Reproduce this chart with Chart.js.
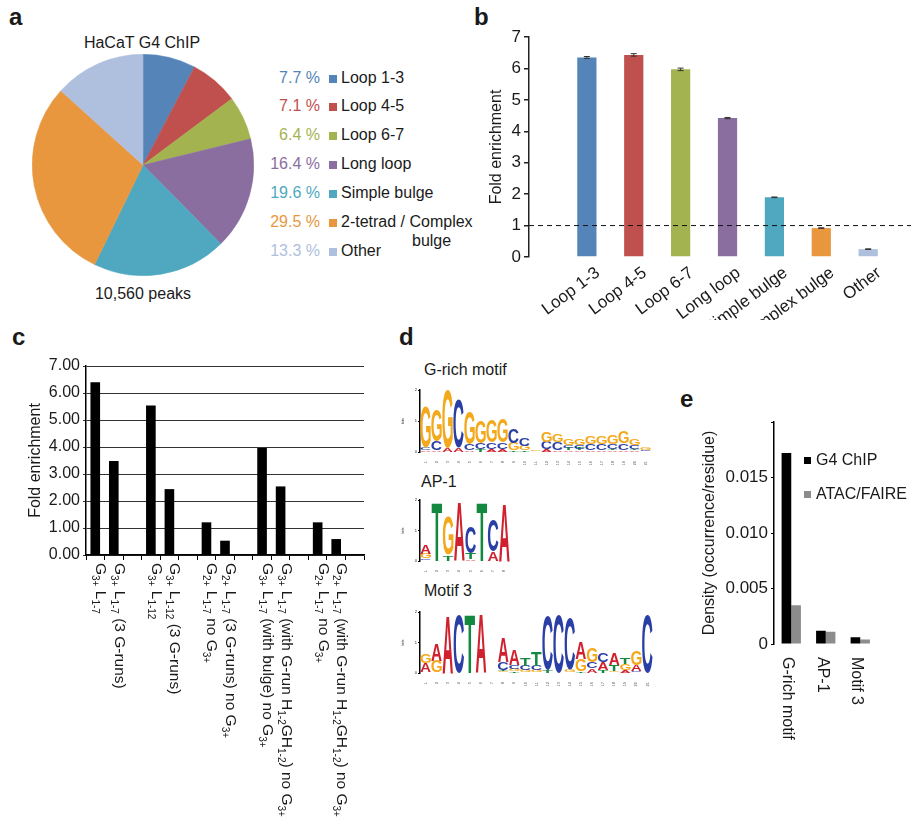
<!DOCTYPE html>
<html><head><meta charset="utf-8">
<script src="https://cdn.jsdelivr.net/npm/chart.js@4/dist/chart.umd.min.js"></script>
<style>
body{margin:0;background:#fff;width:922px;height:826px;position:relative;overflow:hidden;font-family:"Liberation Sans",Arial,sans-serif;color:#1a1a1a;}
canvas{position:absolute;}
.t{position:absolute;white-space:nowrap;font-size:16px;line-height:1;}
.lab{position:absolute;font-weight:bold;font-size:24px;line-height:1;}
.sq{position:absolute;width:8px;height:8px;}
</style></head><body>
<script>
// ---------- DATA ----------
const pieLabels = ["Loop 1-3","Loop 4-5","Loop 6-7","Long loop","Simple bulge","2-tetrad / Complex bulge","Other"];
const piePercents = [7.7, 7.1, 6.4, 16.4, 19.6, 29.5, 13.3];
const pieColors = ["#5585b8","#c0504d","#a3b350","#8b6ea0","#4fa8c0","#e8973f","#afbfde"];
const pieTitle = "HaCaT G4 ChIP";
const pieFooter = "10,560 peaks";

const bCategories = ["Loop 1-3","Loop 4-5","Loop 6-7","Long loop","Simple bulge","2-tetrad / Complex bulge","Other"];
const bValues = [6.35, 6.43, 5.97, 4.42, 1.90, 0.92, 0.25];
const bErrors = [0.03, 0.04, 0.04, 0.02, 0.01, 0.01, 0.01];
const bReference = 1;
const bYTicks = [0,1,2,3,4,5,6,7];

const cLabels = [
  "G_{3+} L_{1-7}",
  "G_{3+} L_{1-7} (3 G-runs)",
  "G_{3+} L_{1-12}",
  "G_{3+} L_{1-12} (3 G-runs)",
  "G_{2+} L_{1-7} no G_{3+}",
  "G_{2+} L_{1-7} (3 G-runs) no G_{3+}",
  "G_{3+} L_{1-7} (with bulge) no G_{3+}",
  "G_{3+} L_{1-7} (with G-run H_{1-2}GH_{1-2}) no G_{3+}",
  "G_{2+} L_{1-7} no G_{3+}",
  "G_{2+} L_{1-7} (with G-run H_{1-2}GH_{1-2}) no G_{3+}"
];
const cValues = [6.40, 3.48, 5.54, 2.44, 1.21, 0.53, 3.96, 2.54, 1.21, 0.59];

const eCategories = ["G-rich motif","AP-1","Motif 3"];
const eSeriesNames = ["G4 ChIP","ATAC/FAIRE"];
const eG4 = [0.0172, 0.0012, 0.0006];
const eAtac = [0.0035, 0.0011, 0.0004];

const logoTitles = ["G-rich motif","AP-1","Motif 3"];
// letters per position, stacked bottom -> top; heights in bits
const gRichLetters = ["ACG","ACG","AG","AC","ACG","TCG","ACG","ACG","TGC","TGC","TG","ACG","ACG","ATCG","ATCG","ACG","ACG","ATCG","ACG","ATCG","TCG"];
const gRichHeights = [[.06,.07,1.3],[.05,.3,1.0],[.12,1.87],[.15,1.55],[.05,.2,1.05],[.08,.2,.7],[.1,.2,.7],[.1,.2,.75],[.05,.25,.45],[.05,.15,.27],[.03,.04],[.08,.25,.35],[.06,.25,.25],[.05,.08,.1,.2],[.05,.06,.12,.22],[.05,.2,.25],[.05,.2,.25],[.05,.05,.15,.3],[.05,.22,.38],[.05,.05,.12,.2],[.03,.03,.1]];
const ap1Letters = ["TCGA","T","TG","A","ATC","T","AC","A"];
const ap1Heights = [[.03,.05,.15,.3],[1.95],[.2,1.25],[1.95],[.05,.2,.85],[1.95],[.3,1.05],[1.9]];
const motif3Letters = ["TAG","GA","A","C","T","A","C","GTCA","TGCA","GCT","GCT","TC","C","GC","TGA","ACG","TAC","GTA","AGT","CAG","C"];
const motif3Heights = [[.03,.3,.3],[.4,.55],[1.9],[1.9],[1.95],[1.95],[.02],[.05,.05,.25,.8],[.05,.08,.12,.5],[.08,.15,.25],[.08,.15,.45],[.1,1.75],[1.9],[.1,1.7],[.05,.4,.55],[.15,.2,.45],[.1,.25,.3],[.05,.2,.4],[.1,.2,.2],[.05,.2,.45],[1.9]];
const letterColors = {A:"#d0222e", C:"#2a3fa6", G:"#f4a91d", T:"#13883f"};

// ---------- HELPERS ----------
const FONT = '"Liberation Sans", Arial, Helvetica, sans-serif';
Chart.defaults.font.family = FONT;
Chart.defaults.color = '#1a1a1a';
Chart.defaults.animation = false;
Chart.defaults.plugins.legend.display = false;
Chart.defaults.plugins.tooltip.enabled = false;

function makeCanvas(left, top, w, h){
  const c = document.createElement('canvas');
  c.width = w; c.height = h;
  c.style.left = left+'px'; c.style.top = top+'px';
  c.style.width = w+'px'; c.style.height = h+'px';
  document.body.appendChild(c);
  return c;
}
function addText(txt, x, y, align, cls, color){
  const d = document.createElement('div');
  d.className = cls || 't';
  d.textContent = txt;
  d.style.left = x+'px'; d.style.top = y+'px';
  const tx = align==='center' ? '-50%' : align==='right' ? '-100%' : '0';
  d.style.transform = 'translate('+tx+',-50%)';
  if (color) d.style.color = color;
  document.body.appendChild(d);
  return d;
}
function addSquare(x, y, color, size){
  const d = document.createElement('div');
  d.className = 'sq'; d.style.left = x+'px'; d.style.top = y+'px'; d.style.background = color;
  if (size){ d.style.width = size+'px'; d.style.height = size+'px'; }
  document.body.appendChild(d);
}
function drawRich(ctx, text, x, y, size, subSize){
  const parts = []; const re = /_\{([^}]*)\}/g; let last = 0, m;
  while ((m = re.exec(text))){ if (m.index>last) parts.push({t:text.slice(last,m.index),sub:false}); parts.push({t:m[1],sub:true}); last = re.lastIndex; }
  if (last < text.length) parts.push({t:text.slice(last),sub:false});
  ctx.save(); ctx.translate(x,y); ctx.rotate(Math.PI/2);
  ctx.fillStyle = '#1a1a1a'; ctx.textBaseline = 'alphabetic'; ctx.textAlign = 'left';
  let cx = 0;
  for (const p of parts){
    ctx.font = (p.sub?subSize:size)+'px '+FONT;
    ctx.fillText(p.t, cx, p.sub ? subSize*0.4 : 0);
    cx += ctx.measureText(p.t).width;
  }
  ctx.restore();
}

// ---------- PANEL LABELS ----------
[["a",9,17],["b",474,17],["c",12,337],["d",399,337],["e",680,399]].forEach(([t,x,y])=>addText(t,x,y,'left','lab'));

// ---------- PANEL A : PIE ----------
new Chart(makeCanvas(32,54,222,222), {
  type:'pie',
  data:{labels:pieLabels, datasets:[{data:piePercents, backgroundColor:pieColors, borderColor:pieColors, borderWidth:0.5}]},
  options:{responsive:false, layout:{padding:0}}
});
addText(pieTitle, 142, 43, 'center');
addText(pieFooter, 143, 294, 'center');
pieLabels.forEach((lab,i)=>{
  const y = 77.5 + i*28.9;
  addText(piePercents[i].toFixed(1)+' %', 320, y, 'right', 't', pieColors[i]);
  addSquare(329, y-3, pieColors[i]);
  const words = lab.split(' ');
  if (lab.length > 18){
    addText(words.slice(0,-1).join(' '), 341, y, 'left');
    addText(words[words.length-1], 412, y+19, 'left');
  } else addText(lab, 341, y, 'left');
});

// ---------- PANEL B ----------
const errPlugin = {id:'errbars', afterDatasetsDraw(chart){
  const ctx = chart.ctx, ys = chart.scales.y, meta = chart.getDatasetMeta(0);
  ctx.save(); ctx.strokeStyle = '#333'; ctx.lineWidth = 1;
  meta.data.forEach((el,i)=>{
    const x = el.x, t = ys.getPixelForValue(bValues[i]+bErrors[i]), b = ys.getPixelForValue(bValues[i]-bErrors[i]);
    ctx.beginPath(); ctx.moveTo(x,t); ctx.lineTo(x,b);
    ctx.moveTo(x-3,t); ctx.lineTo(x+3,t); ctx.moveTo(x-3,b); ctx.lineTo(x+3,b); ctx.stroke();
  });
  const yr = ys.getPixelForValue(bReference);
  ctx.strokeStyle = '#111'; ctx.setLineDash([5,4]);
  ctx.beginPath(); ctx.moveTo(chart.chartArea.left, yr); ctx.lineTo(chart.chartArea.right-8, yr); ctx.stroke();
  ctx.restore();
}};
new Chart(makeCanvas(470,20,452,300), {
  type:'bar',
  data:{datasets:[{data:bValues.map((v,i)=>({x:i,y:v})), backgroundColor:pieColors, borderWidth:0, barPercentage:0.41, categoryPercentage:1}]},
  options:{responsive:false, layout:{padding:{top:17,left:13,right:3,bottom:0}},
    scales:{
      x:{type:'linear', min:-0.64, max:6.49,
         afterBuildTicks:s=>{s.ticks = bCategories.map((_,i)=>({value:i}));},
         afterFit:s=>{s.height = 63;},
         grid:{display:false}, border:{display:false},
         ticks:{autoSkip:false, maxRotation:37, minRotation:37, font:{size:17}, padding:-2, labelOffset:11, callback:v=>bCategories[v] ?? ''}},
      y:{min:0, max:7, afterFit:s=>{s.width = 46;},
         afterBuildTicks:s=>{s.ticks = bYTicks.map(v=>({value:v}));},
         ticks:{font:{size:17}, padding:3},
         grid:{drawOnChartArea:false, tickLength:5, color:'#222', lineWidth:1.5},
         border:{color:'#222', width:1.5},
         title:{display:true, text:'Fold enrichment', font:{size:16}}}
    }},
  plugins:[errPlugin]
});

// ---------- PANEL C ----------
const cSlots = [], cSlotLabels = [];
cValues.forEach((v,i)=>{ cSlots.push(v); cSlotLabels.push(cLabels[i]); if (i%2===1){ cSlots.push(null); cSlotLabels.push(''); } });
const cLabelPlugin = {id:'clabels', afterDraw(chart){
  const xs = chart.scales.x, bottom = chart.chartArea.bottom;
  cSlotLabels.forEach((lab,i)=>{ if (lab) drawRich(chart.ctx, lab, xs.getPixelForValue(i)+1, bottom+8, 15.5, 10); });
}};
new Chart(makeCanvas(0,330,400,496), {
  type:'bar',
  data:{labels:cSlotLabels.map((_,i)=>String(i)), datasets:[{data:cSlots, backgroundColor:'#000', borderWidth:0, barPercentage:0.52, categoryPercentage:1}]},
  options:{responsive:false, layout:{padding:{top:36,left:22,right:36,bottom:0}},
    scales:{
      x:{afterFit:s=>{s.height = 271;},
         grid:{offset:true, drawOnChartArea:false, tickLength:5, color:'#000', lineWidth:1},
         border:{color:'#000', width:1.5},
         ticks:{callback:()=>'', font:{size:1}}},
      y:{min:0, max:7, afterFit:s=>{s.width = 64;},
         ticks:{stepSize:1, font:{size:16}, padding:3, callback:v=>v.toFixed(2)},
         grid:{color:'#333', lineWidth:1, tickLength:3},
         border:{color:'#000', width:1.5},
         title:{display:true, text:'Fold enrichment', font:{size:16}}}
    }},
  plugins:[cLabelPlugin]
});

// ---------- PANEL D : LOGOS ----------
const letterPlugin = {id:'letters', afterDatasetsDraw(chart){
  const ctx = chart.ctx;
  chart.data.datasets.forEach((ds,k)=>{
    chart.getDatasetMeta(k).data.forEach((el,i)=>{
      const L = ds.letters[i]; if (!L) return;
      const p = el.getProps(['x','y','base','width'], true);
      const h = p.base - p.y; if (h < 0.6) return;
      ctx.save();
      ctx.font = 'bold 100px '+FONT;
      const m = ctx.measureText(L);
      const gw = m.actualBoundingBoxLeft + m.actualBoundingBoxRight;
      const gh = m.actualBoundingBoxAscent + m.actualBoundingBoxDescent;
      ctx.translate(p.x - p.width/2, p.base);
      ctx.scale(p.width/gw, h/gh);
      ctx.fillStyle = letterColors[L];
      ctx.textBaseline = 'alphabetic'; ctx.textAlign = 'left';
      ctx.fillText(L, m.actualBoundingBoxLeft, -m.actualBoundingBoxDescent);
      ctx.restore();
    });
  });
}};
function logoChart(left, top, width, padRight, xh, letters, heights){
  const nLayers = Math.max(...letters.map(s=>s.length));
  const datasets = [];
  for (let k=0;k<nLayers;k++) datasets.push({data:heights.map(h=>h[k] ?? 0), letters:letters.map(s=>s[k] ?? ''), backgroundColor:'rgba(0,0,0,0)', borderWidth:0, barPercentage:0.94, categoryPercentage:1, stack:'s'});
  new Chart(makeCanvas(left, top, width, 80), {
    type:'bar',
    data:{labels:letters.map((_,i)=>String(i+1)), datasets},
    options:{responsive:false, layout:{padding:{top:5,left:0,right:padRight,bottom:0}},
      scales:{
        x:{stacked:true, afterFit:s=>{s.height = xh;}, grid:{display:false}, border:{display:false},
           ticks:{font:{size:4}, maxRotation:90, minRotation:90, autoSkip:false, padding:1, color:'#555'}},
        y:{stacked:true, min:0, max:2, afterFit:s=>{s.width = 20;},
           ticks:{stepSize:1, font:{size:4}, padding:1},
           grid:{drawOnChartArea:false, tickLength:2, color:'#000'},
           border:{color:'#000', width:1.5},
           title:{display:true, text:'bits', font:{size:4}, padding:0}}
      }},
    plugins:[letterPlugin]
  });
}
addText(logoTitles[0], 424, 370, 'left');
logoChart(400, 385, 260, 9, 13, gRichLetters, gRichHeights);
addText(logoTitles[1], 421, 482, 'left');
logoChart(400, 495, 115, 5, 14, ap1Letters, ap1Heights);
addText(logoTitles[2], 424, 591, 'left');
logoChart(400, 607, 260, 7, 14, motif3Letters, motif3Heights);

// ---------- PANEL E ----------
const eLabelPlugin = {id:'elabels', afterDraw(chart){
  const xs = chart.scales.x, bottom = chart.chartArea.bottom;
  eCategories.forEach((lab,i)=>drawRich(chart.ctx, lab, xs.getPixelForValue(i)-8, bottom+13, 16, 11));
}};
const eColors = ['#000','#8c8c8c'];
new Chart(makeCanvas(680,395,242,431), {
  type:'bar',
  data:{labels:eCategories, datasets:[
    {label:eSeriesNames[0], data:eG4, backgroundColor:eColors[0], borderWidth:0, categoryPercentage:0.56, barPercentage:1},
    {label:eSeriesNames[1], data:eAtac, backgroundColor:eColors[1], borderWidth:0, categoryPercentage:0.56, barPercentage:1}]},
  options:{responsive:false, layout:{padding:{top:27,left:16,right:44.5,bottom:0}},
    scales:{
      x:{afterFit:s=>{s.height = 182;}, grid:{display:false}, border:{display:false}, ticks:{callback:()=>'', font:{size:1}}},
      y:{min:0, max:0.02, afterFit:s=>{s.width = 78;},
         ticks:{stepSize:0.005, font:{size:17}, padding:3, callback:v=> v===0 ? '0' : (v>0.0199 ? '' : v.toFixed(3))},
         grid:{drawOnChartArea:false, tickLength:3, color:'#000'},
         border:{color:'#000', width:1.5},
         title:{display:true, text:'Density (occurrence/residue)', font:{size:16}}}
    }},
  plugins:[eLabelPlugin]
});
eSeriesNames.forEach((n,i)=>{
  const y = 460 + i*34;
  addSquare(804, y-3, eColors[i], 7);
  addText(n, 816, y, 'left');
});
</script>
</body></html>
